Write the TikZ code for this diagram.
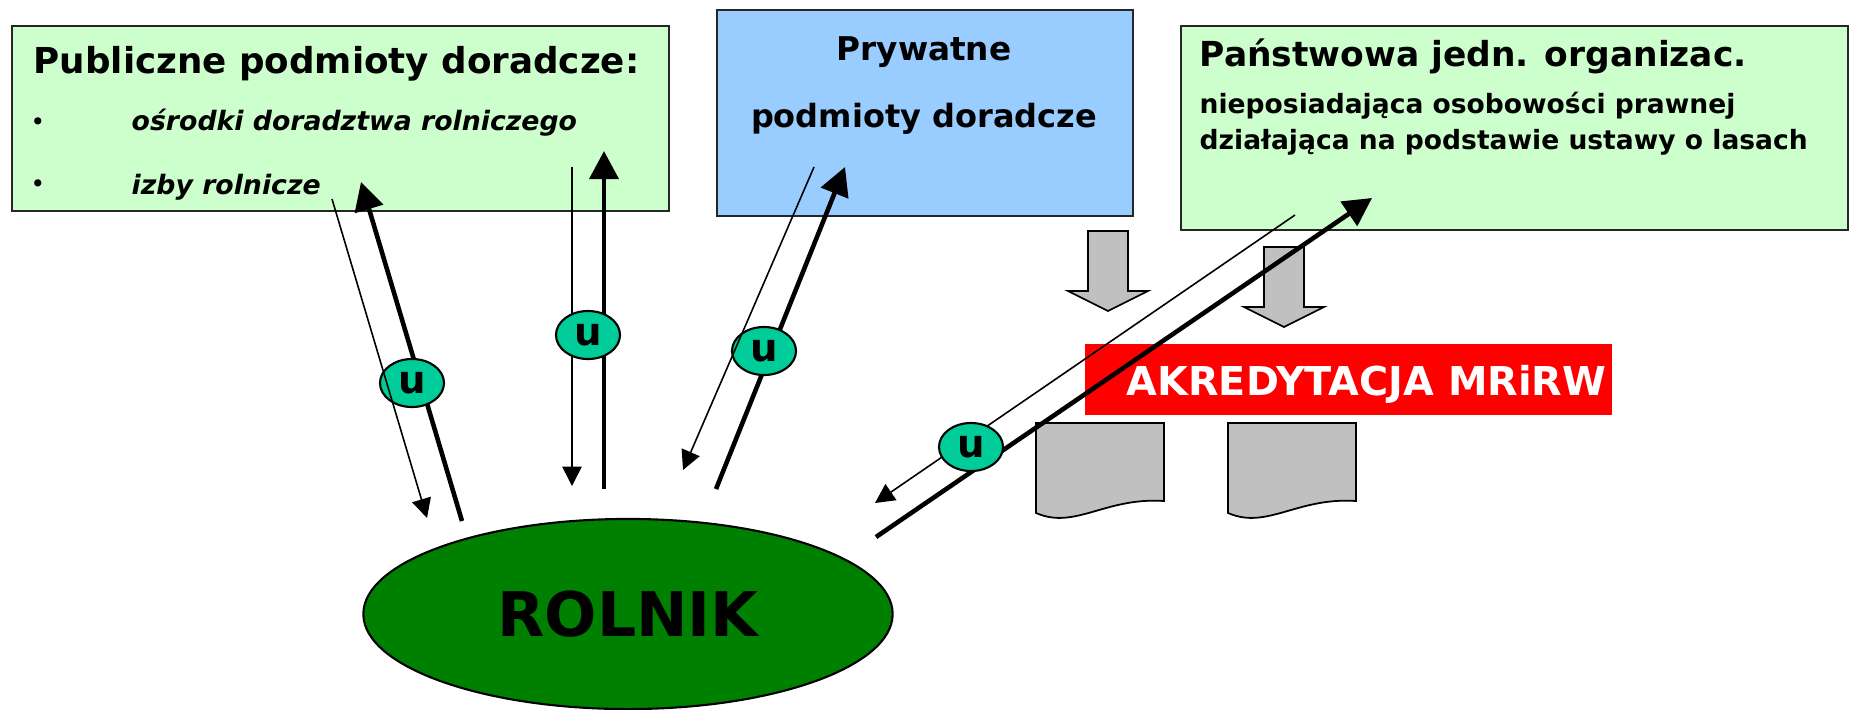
\documentclass[tikz,border=0pt]{standalone}
\usepackage{fontspec}
\setmainfont{DejaVu Sans}
\usetikzlibrary{arrows.meta,shapes.geometric,positioning}
\definecolor{jasnozielony}{HTML}{CCFFCC}
\definecolor{niebieski}{HTML}{99CCFF}
\definecolor{ciemnozielony}{HTML}{008000}
\definecolor{turkus}{HTML}{00CC99}
\definecolor{szary}{HTML}{C0C0C0}
\begin{document}
\begin{tikzpicture}[x=0.01cm,y=-0.01cm,line join=miter]
  \tikzstyle{box}=[draw=black!85,line width=0.5pt,inner sep=0pt,anchor=north west]
  \tikzstyle{napis}=[inner sep=0pt,anchor=base west]
  \tikzstyle{ubadge}=[ellipse,draw=black,line width=0.6pt,fill=turkus,minimum width=0.64cm,minimum height=0.48cm,inner sep=0pt,font=\bfseries\fontsize{11}{11}\selectfont]
  \tikzstyle{cienka}=[line width=0.45pt,-{Triangle[length=5.5pt,width=5.5pt]}]
  \tikzstyle{gruba}=[line width=1.3pt,-{Triangle[length=8pt,width=8.2pt]}]
  \tikzstyle{blok}=[draw=black,line width=0.5pt,fill=szary]
  \useasboundingbox (0,0) rectangle (1849,709);
  \node[box,fill=jasnozielony,minimum width=6.57cm,minimum height=1.85cm] (publ) at (11,25) {};
  \node[box,fill=niebieski,minimum width=4.16cm,minimum height=2.06cm] (pryw) at (716,9) {};
  \node[box,fill=jasnozielony,minimum width=6.67cm,minimum height=2.04cm] (panst) at (1180,25) {};
  \node[box,draw=none,fill=red,minimum width=5.27cm,minimum height=0.71cm] (akred) at (1084,343) {};
  \node[napis,font=\bfseries\fontsize{10.15}{12}\selectfont] (publ_t) at (33,73) {Publiczne podmioty doradcze:};
  \node[inner sep=0pt,font=\fontsize{7}{7}\selectfont] (kropka_1) at (38,124) {\textbullet};
  \node[inner sep=0pt,font=\fontsize{7}{7}\selectfont] (kropka_2) at (38,186) {\textbullet};
  \node[napis,font=\bfseries\itshape\fontsize{7.6}{9}\selectfont] (odr) at (131,130) {ośrodki doradztwa rolniczego};
  \node[napis,font=\bfseries\itshape\fontsize{7.6}{9}\selectfont] (izby) at (131,194) {izby rolnicze};
  \node[inner sep=0pt,anchor=base,font=\bfseries\fontsize{9.3}{11}\selectfont] (pryw_1) at (924,60) {Prywatne};
  \node[inner sep=0pt,anchor=base,font=\bfseries\fontsize{9.1}{11}\selectfont] (pryw_2) at (924,127) {podmioty doradcze};
  \node[napis,font=\bfseries\fontsize{9.8}{12}\selectfont] (panst_1) at (1199,66) {Państwowa jedn. organizac.};
  \node[napis,font=\bfseries\fontsize{7.55}{9}\selectfont] (panst_2) at (1199,113) {nieposiadająca osobowości prawnej};
  \node[napis,font=\bfseries\fontsize{7.55}{9}\selectfont] (panst_3) at (1199,149) {działająca na podstawie ustawy o lasach};
  \node[napis,text=white,font=\bfseries\fontsize{11.3}{13}\selectfont] (akred_t) at (1126,395) {AKREDYTACJA MRiRW};
  \node[ellipse,draw=black,line width=0.6pt,fill=ciemnozielony,minimum width=5.29cm,minimum height=1.90cm,font=\bfseries\fontsize{17.5}{20}\selectfont] (rolnik) at (628,614) {ROLNIK};
  \foreach \dx/\dy in {0/0,176/16}
    \draw[blok,shift={(\dx,\dy)}] (1088,231) -- (1128,231) -- (1128,291) -- (1148,291) -- (1108,311) -- (1068,291) -- (1088,291) -- cycle;
  \foreach \dx in {0,192}
    \draw[blok,shift={(\dx,0)}] (1036,423) -- (1164,423) -- (1164,501) .. controls (1105,497) and (1075,530) .. (1036,513) -- cycle;
  \coordinate (t1a) at (332,199);
  \coordinate (t1b) at (427,518);
  \coordinate (g1a) at (462,521);
  \coordinate (g1b) at (361,182);
  \coordinate (t2a) at (572,167);
  \coordinate (t2b) at (572,486);
  \coordinate (g2a) at (604,489);
  \coordinate (g2b) at (604,151);
  \coordinate (t3a) at (814,167);
  \coordinate (t3b) at (683,470);
  \coordinate (g3a) at (716,489);
  \coordinate (g3b) at (845,167);
  \coordinate (t4a) at (1295,215);
  \coordinate (t4b) at (875,503);
  \coordinate (g4a) at (876,537);
  \coordinate (g4b) at (1372,198);
  \draw[gruba] (g1a) -- (g1b);
  \draw[gruba] (g2a) -- (g2b);
  \draw[gruba] (g3a) -- (g3b);
  \draw[gruba] (g4a) -- (g4b);
  \draw[cienka] (t2a) -- (t2b);
  \draw[cienka] (t4a) -- (t4b);
  \node[ubadge] (u1) at (412,383) {u};
  \node[ubadge] (u2) at (588,335) {u};
  \node[ubadge] (u3) at (764,351) {u};
  \node[ubadge] (u4) at (971,447) {u};
  \draw[cienka] (t1a) -- (t1b);
  \draw[cienka] (t3a) -- (t3b);
\end{tikzpicture}
\end{document}
